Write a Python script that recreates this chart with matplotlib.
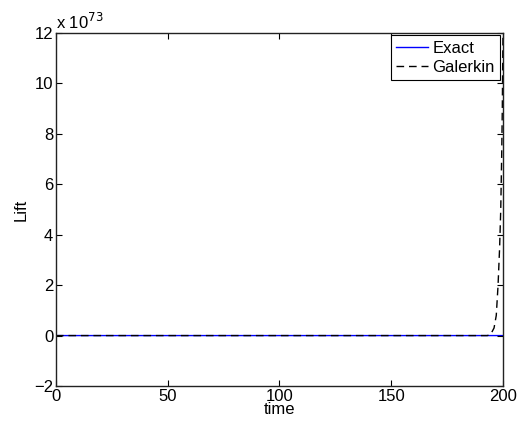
import matplotlib
matplotlib.use("Agg")
import matplotlib.pyplot as plt

plt.rcParams['font.family'] = ['Liberation Sans', 'DejaVu Sans']

# Data (lift in units of 1e73)
exact_time = [0, 200]
exact_lift = [0, 0]
galerkin_time = [0, 150, 190, 193, 194.5, 196, 197, 197.8, 198.5, 199, 199.4, 199.7, 200]
galerkin_lift = [0, 0, 0, 0, 0.05, 0.3, 0.8, 2.0, 3.5, 5.0, 7.0, 9.0, 12.0]
xticks = [0, 50, 100, 150, 200]
yticks = [-2, 0, 2, 4, 6, 8, 10, 12]

FS = 12

fig = plt.figure(figsize=(5.18, 4.30), dpi=100)
ax = fig.add_axes([0.108, 0.1023, 0.863, 0.821])

ax.plot(galerkin_time, galerkin_lift, color='black', lw=1.0, ls=(0, (5.5, 3.5)), label='Galerkin', zorder=2, snap=False)
ax.plot(exact_time, exact_lift, color='#0000ff', lw=1.0, label='Exact', zorder=1, snap=False)

ax.set_xlim(0, 200)
ax.set_ylim(-2, 12)
ax.set_xticks(xticks)
ax.set_yticks(yticks)
ax.set_yticklabels(['\u22122' if v == -2 else str(v) for v in yticks])
ax.tick_params(direction='in', top=True, right=True, labelsize=FS, length=4, width=0.8, pad=2)
for s in ax.spines.values():
    s.set_linewidth(1.0)
    s.set_color('#222222')

ax.set_xlabel('time', fontsize=FS, labelpad=-1)
ax.set_ylabel('Lift', fontsize=FS, labelpad=4)

ax.text(0.0, 1.003, r'x 10$^{73}$', transform=ax.transAxes, fontsize=FS, ha='left', va='bottom')

handles, labels = ax.get_legend_handles_labels()
order = [1, 0]
leg = ax.legend([handles[i] for i in order], [labels[i] for i in order],
                loc='upper right', fontsize=FS, frameon=True, fancybox=False,
                handlelength=1.9, borderaxespad=0.15, borderpad=0.35, labelspacing=0.2,
                handletextpad=0.25)
leg.get_frame().set_edgecolor('black')
leg.get_frame().set_linewidth(0.8)
leg.get_frame().set_alpha(1.0)

fig.savefig('out.png', dpi=100)
